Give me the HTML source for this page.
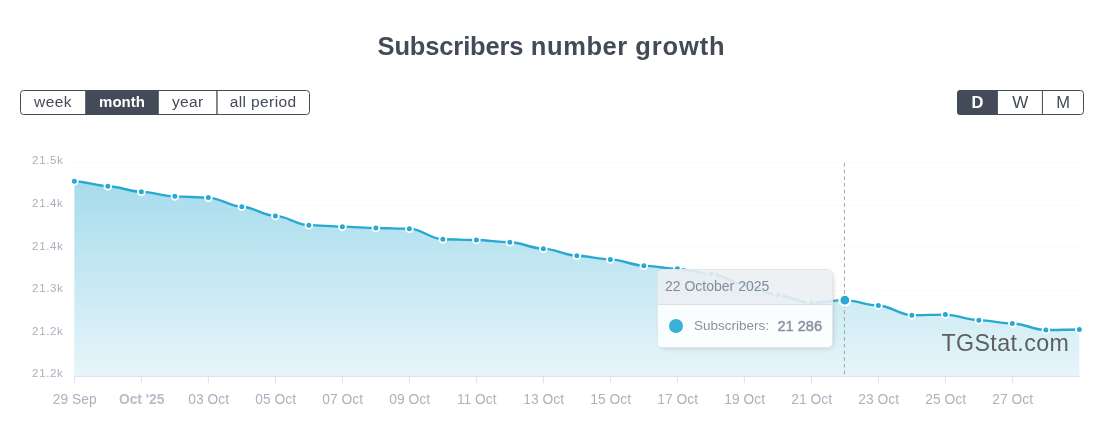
<!DOCTYPE html>
<html><head><meta charset="utf-8"><title>Subscribers number growth</title>
<style>
html,body{margin:0;padding:0;background:#fff;}
body{width:1103px;height:428px;position:relative;overflow:hidden;font-family:"Liberation Sans",sans-serif;color:#444b58;}
h2{position:absolute;left:0;top:31px;width:1103px;margin:0;text-align:center;font-size:25.5px;line-height:30px;font-weight:bold;color:#444b58;letter-spacing:0.3px;}
svg{position:absolute;left:0;top:0;}
svg text{font-family:"Liberation Sans",sans-serif;}
.bt{font-size:15.5px;fill:#444b58;letter-spacing:0.4px;}
.bt.on{fill:#fff;font-weight:bold;font-size:15px;letter-spacing:0;}
.yl{font-size:11.5px;fill:#a9b0bc;letter-spacing:0.65px;}
.xl{font-size:13.8px;fill:#abb2bd;}
.xl.b{font-weight:bold;fill:#b8bec8;}
.tip{position:absolute;left:657px;top:269px;width:174px;height:77px;border:1px solid #e3e6e8;border-radius:5px;background:transparent;box-shadow:2px 2px 6px -4px #999;overflow:hidden;box-sizing:content-box;}
.tip .hd{height:34px;line-height:33px;background:rgba(236,239,241,.89);border-bottom:1px solid #ddd;padding-left:7px;font-size:14px;color:#838b99;}
.tip .bd{position:relative;height:42px;background:rgba(255,255,255,.89);}
.tip .dot{position:absolute;left:11px;top:14px;width:14px;height:14px;border-radius:50%;background:#38b1d8;}
.tip .lb{position:absolute;left:36px;top:12px;font-size:13.5px;line-height:18px;color:#8a93a1;white-space:nowrap;}
.tip .vl{position:absolute;left:119.4px;top:12px;font-size:14.6px;line-height:18px;color:#8a92a0;font-weight:normal;-webkit-text-stroke:0.45px #8a92a0;white-space:nowrap;}
.wm{position:absolute;left:941.5px;top:328.3px;font-size:23.2px;line-height:30px;color:#5e5e5e;letter-spacing:0.4px;}
</style></head><body>
<h2><span style="letter-spacing:-0.14px">Subscribers</span> <span style="letter-spacing:0.59px">number</span> <span style="letter-spacing:0.87px">growth</span></h2>
<svg width="1103" height="428" viewBox="0 0 1103 428">
<defs><linearGradient id="g" x1="0" y1="180" x2="0" y2="376" gradientUnits="userSpaceOnUse"><stop offset="0" stop-color="#a6dcec"/><stop offset="1" stop-color="#e6f5fa"/></linearGradient>
<clipPath id="c1"><rect x="20" y="90" width="290" height="25" rx="3.5"/></clipPath>
<clipPath id="c2"><rect x="957" y="90" width="127" height="25" rx="3.5"/></clipPath>
</defs>
<g>
<rect x="85.2" y="90" width="73.6" height="25" fill="#444b58" clip-path="url(#c1)"/>
<rect x="216.3" y="90" width="1.3" height="25" fill="#444b58"/>
<rect x="20.5" y="90.5" width="289" height="24" rx="3" fill="none" stroke="#444b58" stroke-width="1"/>
<text x="52.95" y="107.3" text-anchor="middle" class="bt">week</text>
<text x="122" y="107.3" text-anchor="middle" class="bt on">month</text>
<text x="187.8" y="107.3" text-anchor="middle" class="bt">year</text>
<text x="263.1" y="107.3" text-anchor="middle" class="bt">all period</text>
</g>
<g>
<g clip-path="url(#c2)"><rect x="957" y="90" width="40.9" height="25" fill="#444b58"/></g>
<rect x="1041.9" y="90" width="1" height="25" fill="#444b58"/>
<rect x="957.5" y="90.5" width="126" height="24" rx="3" fill="none" stroke="#444b58" stroke-width="1"/>
<text x="977.4" y="107.8" text-anchor="middle" class="bt on" style="font-size:16.5px">D</text>
<text x="1020.2" y="107.8" text-anchor="middle" class="bt" style="font-size:17px;letter-spacing:0">W</text>
<text x="1063.1" y="107.8" text-anchor="middle" class="bt" style="font-size:16.5px;letter-spacing:0">M</text>
</g>
<line x1="74.3" x2="1079.8" y1="162.45" y2="162.45" stroke="#f8f9fa" stroke-width="1"/>
<line x1="74.3" x2="1079.8" y1="205.20" y2="205.20" stroke="#f8f9fa" stroke-width="1"/>
<line x1="74.3" x2="1079.8" y1="247.90" y2="247.90" stroke="#f8f9fa" stroke-width="1"/>
<line x1="74.3" x2="1079.8" y1="290.60" y2="290.60" stroke="#f8f9fa" stroke-width="1"/>
<line x1="74.3" x2="1079.8" y1="333.40" y2="333.40" stroke="#f8f9fa" stroke-width="1"/>

<path d="M74.36 181.20 C86.08 181.20 96.14 186.20 107.86 186.20 C119.59 186.20 129.64 191.85 141.36 191.85 C153.09 191.85 163.14 196.37 174.86 196.37 C186.59 196.37 196.64 197.60 208.36 197.60 C220.09 197.60 230.14 206.80 241.86 206.80 C253.59 206.80 263.63 215.90 275.36 215.90 C287.09 215.90 297.13 225.17 308.86 225.17 C320.59 225.17 330.63 226.67 342.36 226.67 C354.09 226.67 364.13 228.04 375.86 228.04 C387.59 228.04 397.63 228.66 409.36 228.66 C421.09 228.66 431.13 239.27 442.86 239.27 C454.59 239.27 464.63 240.00 476.36 240.00 C488.09 240.00 498.13 242.30 509.86 242.30 C521.59 242.30 531.63 248.67 543.36 248.67 C555.09 248.67 565.13 255.77 576.86 255.77 C588.59 255.77 598.63 259.40 610.36 259.40 C622.09 259.40 632.13 265.64 643.86 265.64 C655.59 265.64 665.63 268.83 677.36 268.83 C689.09 268.83 699.13 273.94 710.86 273.94 C722.59 273.94 732.63 284.30 744.36 284.30 C756.09 284.30 766.13 295.20 777.86 295.20 C789.59 295.20 799.63 302.94 811.36 302.94 C823.09 302.94 833.13 300.15 844.86 300.15 C856.59 300.15 866.63 305.47 878.36 305.47 C890.09 305.47 900.13 315.18 911.86 315.18 C923.59 315.18 933.63 314.58 945.36 314.58 C957.09 314.58 967.13 320.16 978.86 320.16 C990.59 320.16 1000.63 323.50 1012.36 323.50 C1024.09 323.50 1034.13 330.03 1045.86 330.03 C1057.58 330.03 1067.63 329.43 1079.36 329.43 L1079.36 376.00 L74.26 376.00 Z" fill="url(#g)"/>
<line x1="844.45" x2="844.45" y1="162.9" y2="376" stroke="#9fa4aa" stroke-width="1" stroke-dasharray="3.7 3"/>
<path d="M74.36 181.20 C86.08 181.20 96.14 186.20 107.86 186.20 C119.59 186.20 129.64 191.85 141.36 191.85 C153.09 191.85 163.14 196.37 174.86 196.37 C186.59 196.37 196.64 197.60 208.36 197.60 C220.09 197.60 230.14 206.80 241.86 206.80 C253.59 206.80 263.63 215.90 275.36 215.90 C287.09 215.90 297.13 225.17 308.86 225.17 C320.59 225.17 330.63 226.67 342.36 226.67 C354.09 226.67 364.13 228.04 375.86 228.04 C387.59 228.04 397.63 228.66 409.36 228.66 C421.09 228.66 431.13 239.27 442.86 239.27 C454.59 239.27 464.63 240.00 476.36 240.00 C488.09 240.00 498.13 242.30 509.86 242.30 C521.59 242.30 531.63 248.67 543.36 248.67 C555.09 248.67 565.13 255.77 576.86 255.77 C588.59 255.77 598.63 259.40 610.36 259.40 C622.09 259.40 632.13 265.64 643.86 265.64 C655.59 265.64 665.63 268.83 677.36 268.83 C689.09 268.83 699.13 273.94 710.86 273.94 C722.59 273.94 732.63 284.30 744.36 284.30 C756.09 284.30 766.13 295.20 777.86 295.20 C789.59 295.20 799.63 302.94 811.36 302.94 C823.09 302.94 833.13 300.15 844.86 300.15 C856.59 300.15 866.63 305.47 878.36 305.47 C890.09 305.47 900.13 315.18 911.86 315.18 C923.59 315.18 933.63 314.58 945.36 314.58 C957.09 314.58 967.13 320.16 978.86 320.16 C990.59 320.16 1000.63 323.50 1012.36 323.50 C1024.09 323.50 1034.13 330.03 1045.86 330.03 C1057.58 330.03 1067.63 329.43 1079.36 329.43" fill="none" stroke="#27a9d1" stroke-width="2.4" stroke-linecap="butt"/>
<line x1="74.2" x2="1079.5" y1="376.5" y2="376.5" stroke="#dfe2e6" stroke-width="1"/>
<line x1="74.36" x2="74.36" y1="376" y2="383.3" stroke="#dfe2e6" stroke-width="1"/>
<line x1="141.36" x2="141.36" y1="376" y2="383.3" stroke="#dfe2e6" stroke-width="1"/>
<line x1="208.36" x2="208.36" y1="376" y2="383.3" stroke="#dfe2e6" stroke-width="1"/>
<line x1="275.36" x2="275.36" y1="376" y2="383.3" stroke="#dfe2e6" stroke-width="1"/>
<line x1="342.36" x2="342.36" y1="376" y2="383.3" stroke="#dfe2e6" stroke-width="1"/>
<line x1="409.36" x2="409.36" y1="376" y2="383.3" stroke="#dfe2e6" stroke-width="1"/>
<line x1="476.36" x2="476.36" y1="376" y2="383.3" stroke="#dfe2e6" stroke-width="1"/>
<line x1="543.36" x2="543.36" y1="376" y2="383.3" stroke="#dfe2e6" stroke-width="1"/>
<line x1="610.36" x2="610.36" y1="376" y2="383.3" stroke="#dfe2e6" stroke-width="1"/>
<line x1="677.36" x2="677.36" y1="376" y2="383.3" stroke="#dfe2e6" stroke-width="1"/>
<line x1="744.36" x2="744.36" y1="376" y2="383.3" stroke="#dfe2e6" stroke-width="1"/>
<line x1="811.36" x2="811.36" y1="376" y2="383.3" stroke="#dfe2e6" stroke-width="1"/>
<line x1="878.36" x2="878.36" y1="376" y2="383.3" stroke="#dfe2e6" stroke-width="1"/>
<line x1="945.36" x2="945.36" y1="376" y2="383.3" stroke="#dfe2e6" stroke-width="1"/>
<line x1="1012.36" x2="1012.36" y1="376" y2="383.3" stroke="#dfe2e6" stroke-width="1"/>

<circle cx="74.36" cy="181.20" r="3.4" fill="#27a9d1" stroke="#fff" stroke-width="1.8"/>
<circle cx="107.86" cy="186.20" r="3.4" fill="#27a9d1" stroke="#fff" stroke-width="1.8"/>
<circle cx="141.36" cy="191.85" r="3.4" fill="#27a9d1" stroke="#fff" stroke-width="1.8"/>
<circle cx="174.86" cy="196.37" r="3.4" fill="#27a9d1" stroke="#fff" stroke-width="1.8"/>
<circle cx="208.36" cy="197.60" r="3.4" fill="#27a9d1" stroke="#fff" stroke-width="1.8"/>
<circle cx="241.86" cy="206.80" r="3.4" fill="#27a9d1" stroke="#fff" stroke-width="1.8"/>
<circle cx="275.36" cy="215.90" r="3.4" fill="#27a9d1" stroke="#fff" stroke-width="1.8"/>
<circle cx="308.86" cy="225.17" r="3.4" fill="#27a9d1" stroke="#fff" stroke-width="1.8"/>
<circle cx="342.36" cy="226.67" r="3.4" fill="#27a9d1" stroke="#fff" stroke-width="1.8"/>
<circle cx="375.86" cy="228.04" r="3.4" fill="#27a9d1" stroke="#fff" stroke-width="1.8"/>
<circle cx="409.36" cy="228.66" r="3.4" fill="#27a9d1" stroke="#fff" stroke-width="1.8"/>
<circle cx="442.86" cy="239.27" r="3.4" fill="#27a9d1" stroke="#fff" stroke-width="1.8"/>
<circle cx="476.36" cy="240.00" r="3.4" fill="#27a9d1" stroke="#fff" stroke-width="1.8"/>
<circle cx="509.86" cy="242.30" r="3.4" fill="#27a9d1" stroke="#fff" stroke-width="1.8"/>
<circle cx="543.36" cy="248.67" r="3.4" fill="#27a9d1" stroke="#fff" stroke-width="1.8"/>
<circle cx="576.86" cy="255.77" r="3.4" fill="#27a9d1" stroke="#fff" stroke-width="1.8"/>
<circle cx="610.36" cy="259.40" r="3.4" fill="#27a9d1" stroke="#fff" stroke-width="1.8"/>
<circle cx="643.86" cy="265.64" r="3.4" fill="#27a9d1" stroke="#fff" stroke-width="1.8"/>
<circle cx="677.36" cy="268.83" r="3.4" fill="#27a9d1" stroke="#fff" stroke-width="1.8"/>
<circle cx="710.86" cy="273.94" r="3.4" fill="#27a9d1" stroke="#fff" stroke-width="1.8"/>
<circle cx="744.36" cy="284.30" r="3.4" fill="#27a9d1" stroke="#fff" stroke-width="1.8"/>
<circle cx="777.86" cy="295.20" r="3.4" fill="#27a9d1" stroke="#fff" stroke-width="1.8"/>
<circle cx="811.36" cy="302.94" r="3.4" fill="#27a9d1" stroke="#fff" stroke-width="1.8"/>
<circle cx="878.36" cy="305.47" r="3.4" fill="#27a9d1" stroke="#fff" stroke-width="1.8"/>
<circle cx="911.86" cy="315.18" r="3.4" fill="#27a9d1" stroke="#fff" stroke-width="1.8"/>
<circle cx="945.36" cy="314.58" r="3.4" fill="#27a9d1" stroke="#fff" stroke-width="1.8"/>
<circle cx="978.86" cy="320.16" r="3.4" fill="#27a9d1" stroke="#fff" stroke-width="1.8"/>
<circle cx="1012.36" cy="323.50" r="3.4" fill="#27a9d1" stroke="#fff" stroke-width="1.8"/>
<circle cx="1045.86" cy="330.03" r="3.4" fill="#27a9d1" stroke="#fff" stroke-width="1.8"/>
<circle cx="1079.36" cy="329.43" r="3.4" fill="#27a9d1" stroke="#fff" stroke-width="1.8"/>

<circle cx="844.86" cy="300.15" r="5.45" fill="#27a9d1" stroke="#fff" stroke-width="2.1"/>
<text x="63.5" y="164.0" text-anchor="end" class="yl">21.5k</text>
<text x="63.5" y="206.8" text-anchor="end" class="yl">21.4k</text>
<text x="63.5" y="249.5" text-anchor="end" class="yl">21.4k</text>
<text x="63.5" y="292.2" text-anchor="end" class="yl">21.3k</text>
<text x="63.5" y="334.9" text-anchor="end" class="yl">21.2k</text>
<text x="63.5" y="377.3" text-anchor="end" class="yl">21.2k</text>

<text x="74.7" y="404.2" text-anchor="middle" class="xl">29 Sep</text>
<text x="141.7" y="404.2" text-anchor="middle" class="xl b">Oct '25</text>
<text x="208.7" y="404.2" text-anchor="middle" class="xl">03 Oct</text>
<text x="275.7" y="404.2" text-anchor="middle" class="xl">05 Oct</text>
<text x="342.7" y="404.2" text-anchor="middle" class="xl">07 Oct</text>
<text x="409.7" y="404.2" text-anchor="middle" class="xl">09 Oct</text>
<text x="476.7" y="404.2" text-anchor="middle" class="xl">11 Oct</text>
<text x="543.7" y="404.2" text-anchor="middle" class="xl">13 Oct</text>
<text x="610.7" y="404.2" text-anchor="middle" class="xl">15 Oct</text>
<text x="677.7" y="404.2" text-anchor="middle" class="xl">17 Oct</text>
<text x="744.7" y="404.2" text-anchor="middle" class="xl">19 Oct</text>
<text x="811.7" y="404.2" text-anchor="middle" class="xl">21 Oct</text>
<text x="878.7" y="404.2" text-anchor="middle" class="xl">23 Oct</text>
<text x="945.7" y="404.2" text-anchor="middle" class="xl">25 Oct</text>
<text x="1012.7" y="404.2" text-anchor="middle" class="xl">27 Oct</text>

</svg>
<div class="wm">TGStat.com</div>
<div class="tip"><div class="hd">22 October 2025</div><div class="bd"><span class="dot"></span><span class="lb">Subscribers:</span><span class="vl">21 286</span></div></div>
</body></html>
